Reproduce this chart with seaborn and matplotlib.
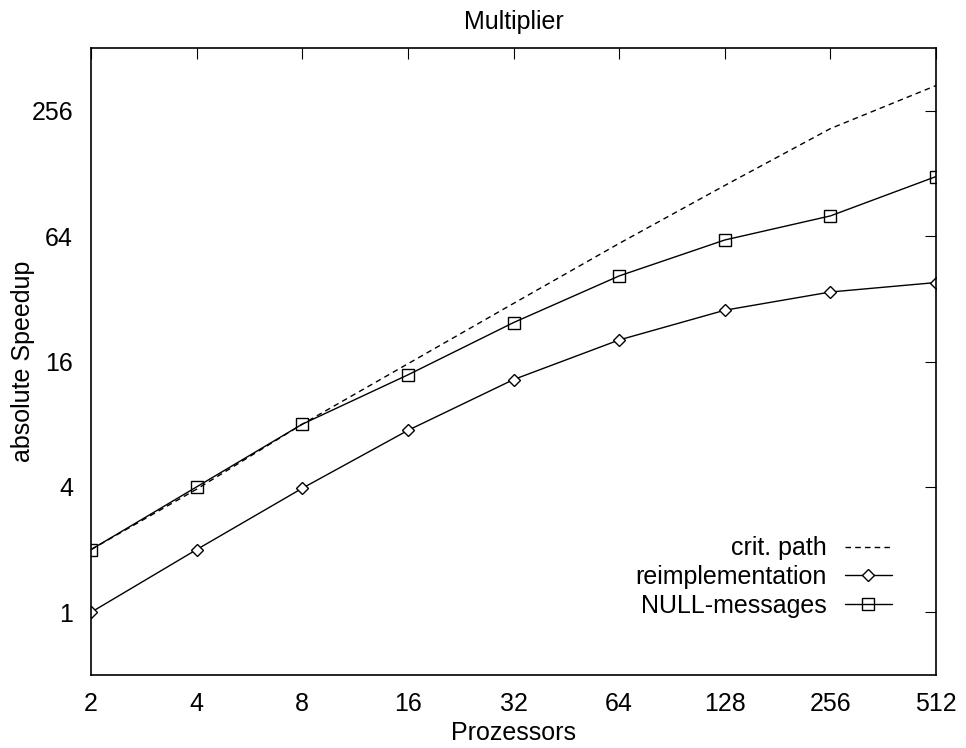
import matplotlib
matplotlib.use("Agg")
import matplotlib.pyplot as plt
import seaborn as sns
import pandas as pd

processors = [2, 4, 8, 16, 32, 64, 128, 256, 512]
crit_path = [2.0, 3.9, 8.0, 15.6, 30.4, 59, 112, 210, 338]
reimplementation = [1.0, 2.0, 3.94, 7.47, 13.1, 20.3, 28.2, 34.5, 38.3]
null_messages = [2.0, 4.0, 8.0, 13.8, 24.6, 41.2, 61.3, 80, 123.6]
x_ticks = [2, 4, 8, 16, 32, 64, 128, 256, 512]
y_ticks = [1, 4, 16, 64, 256]

sns.set_style("white")
plt.rcParams['font.family'] = ['Liberation Sans', 'DejaVu Sans']
plt.rcParams['text.color'] = 'black'
plt.rcParams['axes.labelcolor'] = 'black'
FS = 18

fig = plt.figure(figsize=(9.66, 7.48), dpi=100)
ax = fig.add_axes([91/966, 1-675/748, (936-91)/966, (675-48)/748])

df_c = pd.DataFrame({"x": processors, "y": crit_path})
df_r = pd.DataFrame({"x": processors, "y": reimplementation})
df_n = pd.DataFrame({"x": processors, "y": null_messages})

sns.lineplot(data=df_c, x="x", y="y", ax=ax, color="black", lw=1,
             linestyle=(0, (4, 3)), label="crit. path")
sns.lineplot(data=df_r, x="x", y="y", ax=ax, color="black", lw=1,
             marker="D", markersize=6, markerfacecolor="white",
             markeredgecolor="black", markeredgewidth=1, label="reimplementation")
sns.lineplot(data=df_n, x="x", y="y", ax=ax, color="black", lw=1,
             marker="s", markersize=9, markerfacecolor="none",
             markeredgecolor="black", markeredgewidth=1, label="NULL-messages")

ax.set_xscale("log", base=2)
ax.set_yscale("log", base=2)
ax.set_xlim(2, 512)
ax.set_ylim(0.5, 512)
ax.set_xticks(x_ticks)
ax.set_xticklabels([str(v) for v in x_ticks])
ax.set_yticks(y_ticks)
ax.set_yticklabels([str(v) for v in y_ticks])
ax.minorticks_off()
ax.tick_params(direction="in", length=8, width=0.8, labelsize=FS, colors="black",
               top=True, right=True)
ax.tick_params(axis="x", pad=12)
ax.tick_params(axis="y", pad=13)
for s in ax.spines.values():
    s.set_color("black")
    s.set_linewidth(1.2)

ax.set_xlabel("Prozessors", fontsize=FS, labelpad=4, color="black")
ax.set_ylabel("absolute Speedup", fontsize=FS, labelpad=-3, color="black")
ax.set_title("Multiplier", fontsize=FS, pad=14, color="black")

leg = ax.legend(loc="lower right", bbox_to_anchor=(0.948, 0.091), frameon=False,
                markerfirst=False, fontsize=FS, handlelength=1.9,
                handletextpad=0.7, labelspacing=0.19, borderpad=0, borderaxespad=0)
for t in leg.get_texts():
    t.set_ha("right")
    t.set_color("black")
leg._legend_box.align = "right"

fig.savefig("out.png", dpi=100)
